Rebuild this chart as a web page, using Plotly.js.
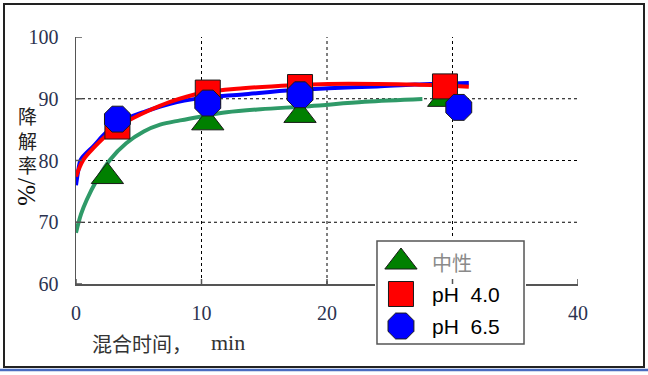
<!DOCTYPE html>
<html>
<head>
<meta charset="utf-8">
<script src="https://cdn.plot.ly/plotly-3.0.1.min.js"></script>
<style>
  html, body { margin: 0; padding: 0; background: #ffffff; }
  #chart { width: 648px; height: 375px; }
</style>
</head>
<body>
<div id="chart"></div>
<script>
// ---- data ----
const seriesNames = ['中性', 'pH\u00a0\u00a04.0', 'pH\u00a0\u00a06.5'];

// measured points
const neutralX = [2.5, 10.5, 17.85, 29.3];
const neutralY = [77.4, 86.1, 87.3, 89.9];
const ph40X = [3.3, 10.5, 17.85, 29.4];
const ph40Y = [85.5, 91.0, 91.9, 92.0];
const ph65X = [3.3, 10.5, 17.85, 30.5];
const ph65Y = [86.7, 89.3, 90.65, 88.6];

// fitted curves
const neutralFitX = [0, 0.4, 0.85, 1.65, 2.7, 4.0, 5.4, 6.7, 8.3, 9.9, 12, 14.7, 18.6, 23, 27.6];
const neutralFitY = [68.3, 71.3, 73.6, 76.8, 80.1, 82.8, 84.7, 85.8, 86.5, 87.1, 87.8, 88.3, 88.8, 89.5, 89.95];
const ph40FitX = [0, 0.58, 1.38, 2.45, 4.04, 5.6, 7.5, 9.9, 13.3, 17.3, 20.1, 24, 27, 31.3];
const ph40FitY = [77.4, 80.1, 82.0, 84.1, 86.3, 87.9, 89.5, 90.9, 91.7, 92.2, 92.4, 92.4, 92.3, 91.95];
const ph65FitX = [0, 0.19, 0.37, 1.38, 2.45, 4.04, 5.6, 7.5, 9.9, 13.3, 17.3, 20.1, 24, 27, 31.3];
const ph65FitY = [76.0, 78.5, 80.1, 82.3, 84.6, 86.8, 88.0, 89.2, 90.1, 90.7, 91.4, 91.7, 92.0, 92.3, 92.55];

// axes
const xTicks = [0, 10, 20, 30, 40];
const xTickText = ['0', '10', '20', '', '40'];   // "30" is hidden behind the legend box
const yTicks = [60, 70, 80, 90, 100];
const xGrid = [10, 20, 30];
const yGrid = [70, 80, 90];
const xTitleCJK = '混合时间，';
const xTitleUnit = 'min';
const yTitleCJK = '降解率';
const yTitleUnit = '/%';

// ---- styles ----
const W = 648, H = 375;
const colors = {
  neutralLine: '#2f9a68', neutral: '#008000',
  ph40: '#ff0000', ph65: '#0000ff', edge: '#1a1a1a'
};
const sizes = { tri: 28, sq: 25, oct: 28 };
const symbols = ['triangle-up', 'square', 'octagon'];
const fills = [colors.neutral, colors.ph40, colors.ph65];
const msizes = [sizes.tri, sizes.sq, sizes.oct];

const px = (a, b) => [a / W, b / W];
const py = (top, bottom) => [1 - bottom / H, 1 - top / H];

const axisLine = '#555555';
const tickFont = { family: 'Liberation Serif, Times New Roman, serif', size: 20, color: '#2b3350' };

const traces = [
  { x: neutralFitX, y: neutralFitY, mode: 'lines', line: { color: colors.neutralLine, width: 4, shape: 'spline', smoothing: 1 }, hoverinfo: 'skip' },
  { x: ph65FitX, y: ph65FitY, mode: 'lines', line: { color: colors.ph65, width: 4, shape: 'spline', smoothing: 1 }, hoverinfo: 'skip' },
  { x: ph40FitX, y: ph40FitY, mode: 'lines', line: { color: colors.ph40, width: 4, shape: 'spline', smoothing: 1 }, hoverinfo: 'skip' },
  { x: neutralX, y: neutralY, mode: 'markers', marker: { symbol: symbols[0], size: msizes[0], color: fills[0], line: { color: colors.edge, width: 1 } } },
  { x: ph40X, y: ph40Y, mode: 'markers', marker: { symbol: symbols[1], size: msizes[1], color: fills[1], line: { color: colors.edge, width: 1 } } },
  { x: ph65X, y: ph65Y, mode: 'markers', marker: { symbol: symbols[2], size: msizes[2], color: fills[2], line: { color: colors.edge, width: 1 } } }
];

// custom legend on its own subplot (x2/y2), items at y = 2,1,0
const legX = 0.172, legTextX = 0.364;
seriesNames.forEach((name, i) => {
  traces.push({
    x: [legX], y: [seriesNames.length - 1 - i], xaxis: 'x2', yaxis: 'y2', mode: 'markers',
    marker: { symbol: symbols[i], size: msizes[i], color: fills[i], line: { color: colors.edge, width: 1 } },
    hoverinfo: 'skip'
  });
});

const annotations = [];
seriesNames.forEach((name, i) => {
  annotations.push({
    xref: 'x2', yref: 'y2', x: legTextX, y: seriesNames.length - 1 - i,
    xanchor: 'left', yanchor: 'middle', showarrow: false, text: name,
    font: i === 0 ? { family: 'Noto Sans CJK SC', size: 20, color: '#8a8a8a' }
                  : { family: 'Liberation Sans, Arial, sans-serif', size: 21, color: '#000000' }
  });
});

// x title (CJK part and unit)
annotations.push({
  xref: 'paper', yref: 'paper', x: 90 / W, y: 1 - 343 / H, xanchor: 'left', yanchor: 'middle', showarrow: false,
  text: xTitleCJK, font: { family: 'Noto Sans CJK SC', size: 20, color: '#333333' }
});
annotations.push({
  xref: 'paper', yref: 'paper', x: 209 / W, y: 1 - 342 / H, xanchor: 'left', yanchor: 'middle', showarrow: false,
  text: xTitleUnit, font: { family: 'Liberation Serif, serif', size: 22, color: '#333333' }
});
// y title: stacked CJK characters (one text, line-broken) then rotated unit
annotations.push({
  xref: 'paper', yref: 'paper', x: 27 / W, y: 1 - 140 / H, xanchor: 'center', yanchor: 'middle',
  showarrow: false, text: Array.from(yTitleCJK).join('<br>'), borderpad: 0,
  font: { family: 'Noto Sans CJK SC', size: 19, color: '#222222' }
});
annotations.push({
  xref: 'paper', yref: 'paper', x: 27 / W, y: 1 - 192 / H, xanchor: 'center', yanchor: 'middle',
  showarrow: false, text: yTitleUnit, textangle: 90, borderpad: 0,
  font: { family: 'Liberation Serif, serif', size: 25, color: '#111111' }
});

const shapes = [];
// dotted grid lines
xGrid.forEach(v => shapes.push({ type: 'line', xref: 'x', yref: 'y domain', x0: v, x1: v, y0: 0, y1: 1,
  layer: 'below', line: { color: '#000000', width: 1, dash: 'dot' } }));
yGrid.forEach(v => shapes.push({ type: 'line', xref: 'x domain', yref: 'y', x0: 0, x1: 1, y0: v, y1: v,
  layer: 'below', line: { color: '#000000', width: 1, dash: 'dot' } }));
// tick marks crossing the axis lines
xTicks.forEach(v => shapes.push({ type: 'line', xref: 'x', yref: 'y', ysizemode: 'pixel', yanchor: 60,
  x0: v, x1: v, y0: -5, y1: 5, layer: 'above', line: { color: axisLine, width: 1.5 } }));
yTicks.forEach(v => shapes.push({ type: 'line', xref: 'x', yref: 'y', xsizemode: 'pixel', xanchor: 0,
  x0: -6, x1: 6, y0: v, y1: v, layer: 'above', line: { color: axisLine, width: 1.5 } }));
// legend box (drawn in the legend subplot's lower layer, so it covers the main axes)
shapes.push({ type: 'rect', xref: 'x2', yref: 'y2', x0: 0.0132, x1: 0.9868, y0: -0.563, y1: 2.656,
  layer: 'below', fillcolor: '#ffffff', line: { color: '#555555', width: 1.5 } });
// outer frame
shapes.push({ type: 'rect', xref: 'paper', yref: 'paper', x0: 4 / W, x1: 644 / W, y0: 1 - 367 / H, y1: 1 - 4 / H,
  line: { color: '#222222', width: 2 }, fillcolor: 'rgba(0,0,0,0)' });
// blue base line
shapes.push({ type: 'line', xref: 'paper', yref: 'paper', x0: 0, x1: 1, y0: 1 - 370 / H, y1: 1 - 370 / H,
  line: { color: '#4a6cc0', width: 2.5 } });

const layout = {
  width: W, height: H,
  margin: { l: 0, r: 0, t: 0, b: 0 },
  paper_bgcolor: '#ffffff', plot_bgcolor: '#ffffff',
  showlegend: false,
  xaxis: {
    domain: px(76, 578), range: [0, 40], tickvals: xTicks, ticktext: xTickText, ticks: '',
    showline: true, linecolor: axisLine, linewidth: 1.5, showgrid: false, zeroline: false,
    tickfont: tickFont, ticklabelstandoff: 10, anchor: 'y', automargin: false, fixedrange: true
  },
  yaxis: {
    domain: py(37, 284), range: [60, 100], tickvals: yTicks, ticktext: yTicks.map(String), ticks: '',
    showline: true, linecolor: axisLine, linewidth: 1.5, showgrid: false, zeroline: false,
    tickfont: tickFont, ticklabelstandoff: 12, anchor: 'x', automargin: false, fixedrange: true
  },
  xaxis2: { domain: px(375, 526), range: [0, 1], visible: false, anchor: 'y2', fixedrange: true },
  yaxis2: { domain: py(239, 346), range: [-0.625, 2.719], visible: false, anchor: 'x2', fixedrange: true },
  shapes: shapes,
  annotations: annotations
};

Plotly.newPlot('chart', traces, layout, { staticPlot: true, displayModeBar: false });
</script>
</body>
</html>
